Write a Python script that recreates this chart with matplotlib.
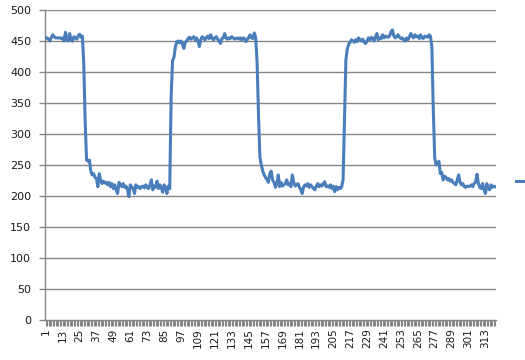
import matplotlib
matplotlib.use("Agg")
import matplotlib.pyplot as plt

# ---- data ----
high_a = [455, 455, 453, 450, 456, 460, 457, 455, 455, 455, 455, 454, 455, 450, 464,
          452, 450, 462, 452, 450, 457, 455, 453, 458, 461, 456]
drop_a = [458, 415, 320, 258]
low_a = [256, 258, 240, 234, 236, 230, 228, 215, 236, 225, 220, 224, 221, 222, 218,
         222, 215, 220, 212, 218, 210, 204, 222, 218, 215, 220, 214, 216, 210, 199,
         218, 215, 212, 204, 218, 214, 215, 212, 215, 216, 213, 218, 214, 212, 218,
         226, 210, 216, 214, 224, 212, 218, 214, 206, 218, 214, 204, 216, 212]
high_b = [360, 418, 424, 440, 449, 450, 447, 450, 445, 438, 448, 450, 454, 456, 453,
          455, 457, 452, 455, 450, 441, 452, 457, 455, 452, 455, 458, 454, 460, 455,
          452, 455, 457, 453, 450, 446, 454, 455, 462, 455, 453, 455, 454, 457, 455,
          453, 454, 455, 453, 455, 452, 455, 454, 449, 452, 456, 460, 455, 454, 463,
          455, 415, 330]
low_b = [262, 250, 240, 234, 230, 226, 222, 236, 240, 226, 222, 214, 220, 234, 215,
         222, 216, 218, 220, 226, 218, 220, 215, 234, 222, 216, 218, 220, 214, 210,
         204, 215, 218, 216, 220, 214, 218, 215, 212, 210, 216, 220, 215, 218, 216,
         220, 223, 215, 216, 214, 218, 212, 216, 207, 215, 210, 214, 212, 215, 226]
rise_c = [320, 420, 437, 445, 448]
high_c = [452, 450, 448, 452, 449, 455, 452, 450, 453, 448, 446, 450, 455, 452, 456,
          454, 450, 457, 462, 452, 455, 454, 460, 455, 458, 457, 456, 458, 465, 468,
          458, 455, 457, 460, 456, 454, 455, 452, 450, 455, 452, 456, 462, 458, 455,
          460, 457, 458, 454, 460, 455, 454, 458, 457, 456, 460, 458]
drop_c = [440, 340]
low_c = [262, 250, 252, 256, 236, 238, 226, 232, 230, 226, 228, 224, 226, 222, 220,
         218, 226, 234, 222, 218, 220, 215, 214, 216, 215, 216, 218, 215, 220, 222,
         235, 220, 214, 212, 220, 210, 204, 220, 212, 210, 218, 214, 216, 215]

values = high_a + drop_a + low_a + high_b + low_b + rise_c + high_c + drop_c + low_c
assert len(values) == 320, len(values)
categories = list(range(1, len(values) + 1))
label_every = 12
y_ticks = [0, 50, 100, 150, 200, 250, 300, 350, 400, 450, 500]

# ---- figure ----
W, H = 525, 360
fig = plt.figure(figsize=(W / 100, H / 100), dpi=100)
ax = fig.add_axes([45 / W, 1 - 320 / H, (496 - 45) / W, (320 - 10) / H])

grid_col = "#868686"
line_col = "#4a7ebb"

ax.plot(categories, values, color=line_col, lw=2.2, solid_joinstyle="round",
        label=" ", zorder=3)

ax.set_xlim(0.5, len(values) + 0.5)
ax.set_ylim(0, 500)
ax.set_yticks(y_ticks)
ax.set_yticklabels([str(v) for v in y_ticks])
for v in y_ticks[1:]:
    ax.axhline(v, color=grid_col, lw=1.0, zorder=1)

ax.set_xticks(categories)
ax.set_xticklabels([str(c) if (c - 1) % label_every == 0 else "" for c in categories],
                   rotation=90, va="top", ha="center")

for s in ["top", "right"]:
    ax.spines[s].set_visible(False)
for s in ["left", "bottom"]:
    ax.spines[s].set_color(grid_col)
    ax.spines[s].set_linewidth(1.0)

ax.tick_params(axis="y", length=4, width=1, color=grid_col, labelsize=8,
               labelcolor="#1a1a1a", pad=6)
ax.tick_params(axis="x", length=4, width=0.8, color=grid_col, labelsize=7.5,
               labelcolor="#1a1a1a", pad=2)

leg = ax.legend(loc="center left", bbox_to_anchor=(1.028, 0.445), frameon=False,
                handlelength=0.7, handletextpad=0.0, borderpad=0.0)

fig.savefig("out.png", dpi=100, facecolor="white")
